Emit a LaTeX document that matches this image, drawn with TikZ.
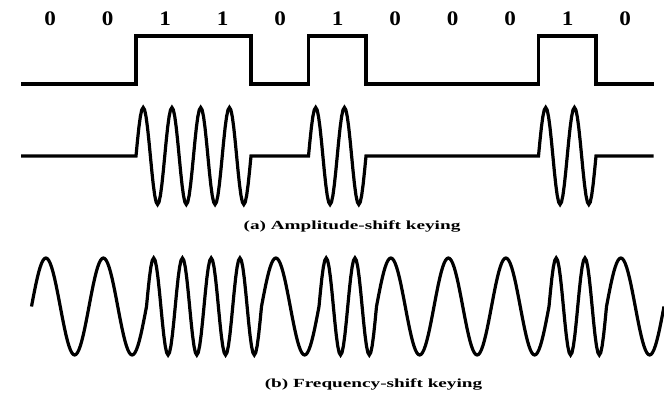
\documentclass[tikz,border=0pt]{standalone}
\usepackage{fontspec}
\setmainfont{Liberation Serif}
\usepackage{graphicx}
\usepackage{tikz}
\newcommand{\bitw}{57.5}
\newcommand{\bitlist}{0,0,1,1,0,1,0,0,0,1,0}
\tikzset{
  sig/.style={line width=2.4pt,line join=miter},
  bitlbl/.style={font=\fontsize{15.5}{16}\selectfont\bfseries,anchor=base,inner sep=0pt},
  captxt/.style={font=\fontsize{9.3}{10}\selectfont\bfseries,anchor=base,inner sep=0pt}
}

\begin{document}
\begin{tikzpicture}[x=0.75pt,y=-0.75pt]
  \useasboundingbox (0,0) rectangle (664,396);

  \foreach \b [count=\i from 0] in \bitlist
    \node[bitlbl] (bit\i) at ({21.5+\bitw*(\i+0.5)},25.5) {\scalebox{1.12}[1]{\b}};

  % data
  \draw[sig] (21,84) foreach \b [count=\i from 0] in \bitlist
    { -- ({21+\bitw*\i},{84-48*\b}) -- ({21+\bitw*(\i+1)},{84-48*\b}) };

  % ask
  \draw[sig] (21,156) foreach \b [count=\i from 0] in \bitlist
    { -- plot[domain={21+\bitw*\i}:{21+\bitw*(\i+1)},samples=41]
        (\x,{156-48.5*\b*sin((720/\bitw)*(\x-21-\bitw*\i))}) };
  \node[captxt] (askcap) at (352,229) {\scalebox{1.55}[1]{(a) Amplitude-shift keying}};

  % fsk
  \draw[sig] (31.5,306.5) foreach \b [count=\i from 0] in \bitlist
    { -- plot[domain={31.5+\bitw*\i}:{31.5+\bitw*(\i+1)},samples=41]
        (\x,{306.5-48.5*sin((360/\bitw)*(1+\b)*(\x-31.5-\bitw*\i))}) };
  \node[captxt] (fskcap) at (373.5,387) {\scalebox{1.55}[1]{(b) Frequency-shift keying}};
\end{tikzpicture}
\end{document}
